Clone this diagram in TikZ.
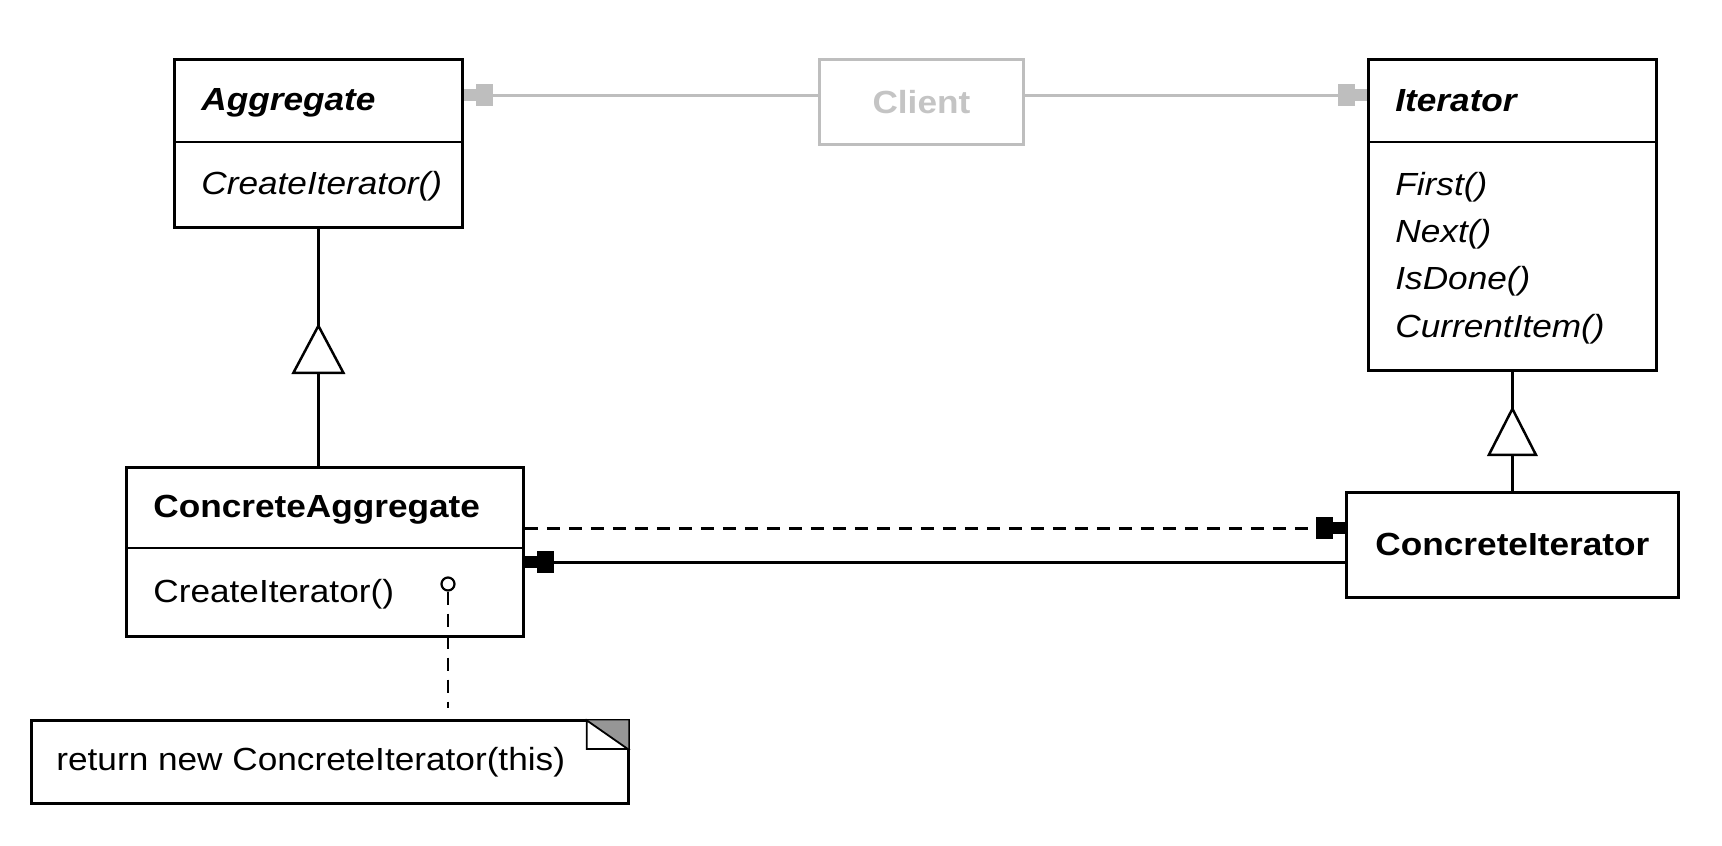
\documentclass[tikz,border=0pt]{standalone}
\usepackage{fontspec}
\setmainfont{Liberation Sans}[FakeStretch=1.1]
\usetikzlibrary{arrows.meta}
\definecolor{lightline}{RGB}{190,190,190}
\definecolor{lighttext}{RGB}{196,196,196}
\definecolor{foldgray}{RGB}{150,150,150}
\tikzset{
  plugtip/.tip={Rectangle[length=17pt,width=22pt] Rectangle[length=12pt,width=12pt]},
}
\begin{document}
\begin{tikzpicture}[x=1pt,y=-1pt,line width=2.8pt,
  box/.style={draw,rectangle,line width=2.8pt,inner sep=0pt,anchor=north west,fill=white},
  txt/.style={inner sep=0pt,anchor=base west,font=\fontsize{32}{38}\selectfont},
  clsname/.style={txt,font=\fontsize{32}{38}\selectfont\bfseries},
  absname/.style={txt,font=\fontsize{32}{38}\selectfont\bfseries\itshape},
  absop/.style={txt,font=\fontsize{32}{38}\selectfont\itshape},
  dashline/.style={dash pattern=on 13pt off 9pt},
  inherit/.style={draw,fill=white,line width=2.5pt,line join=miter},
]
\useasboundingbox (0,0) rectangle (1722,846);

% ---------- Aggregate ----------
\node[box,minimum width=288pt,minimum height=168pt] (agg) at (173,58) {};
\draw ([yshift=-84pt]agg.north west) -- ([yshift=-84pt]agg.north east);
\node[absname] (aggname) at (200,110) {Aggregate};
\node[absop] (aggop) at (200,194) {CreateIterator()};

% ---------- Client ----------
\node[draw=lightline,rectangle,line width=2.8pt,inner sep=0pt,anchor=north west,
      minimum width=204pt,minimum height=85pt,text=lighttext,
      font=\fontsize{32}{38}\selectfont\bfseries] (client) at (818,58) {Client};

% ---------- Iterator ----------
\node[box,minimum width=288pt,minimum height=311pt] (it) at (1367,58) {};
\draw ([yshift=-84pt]it.north west) -- ([yshift=-84pt]it.north east);
\node[absname] (itname) at (1394,111) {Iterator};
\node[absop] (itfirst) at (1394,195) {First()};
\node[absop] (itnext) at (1394,242) {Next()};
\node[absop] (itdone) at (1394,289) {IsDone()};
\node[absop] (itcur) at (1394,337) {CurrentItem()};

% ---------- ConcreteAggregate ----------
\node[box,minimum width=397pt,minimum height=169pt] (cagg) at (125,466) {};
\draw ([yshift=-82pt]cagg.north west) -- ([yshift=-82pt]cagg.north east);
\node[clsname] (caggname) at (152,517) {ConcreteAggregate};
\node[txt] (caggop) at (152,602) {CreateIterator()};
\node[circle,draw,line width=2.2pt,minimum size=13pt,inner sep=0pt] (hole) at (448,584) {};

% ---------- ConcreteIterator ----------
\node[box,minimum width=332pt,minimum height=105pt,
      font=\fontsize{32}{38}\selectfont\bfseries] (ci) at (1345,491) {ConcreteIterator};

% ---------- Note ----------
\node[box,minimum width=597pt,minimum height=83pt] (note) at (30,719) {};
\node[txt] (notetext) at (55,770) {return new ConcreteIterator(this)};
\fill[foldgray] ([xshift=-43pt,yshift=-1.4pt]note.north east) -- ([xshift=-1.4pt,yshift=-1.4pt]note.north east)
   -- ([xshift=-1.4pt,yshift=-31pt]note.north east) -- cycle;
\draw[line width=1.8pt,fill=white] ([xshift=-43pt,yshift=-1.4pt]note.north east)
   -- ([xshift=-43pt,yshift=-30pt]note.north east)
   -- ([xshift=-2pt,yshift=-30pt]note.north east) -- cycle;

% ---------- Client associations ----------
\coordinate (cw) at ([yshift=6.5pt]client.west);
\coordinate (ce) at ([yshift=6.5pt]client.east);
\draw[lightline,-{plugtip}] (cw) -- (cw -| agg.east);
\draw[lightline,-{plugtip}] (ce) -- (ce -| it.west);

% ---------- Inheritance ----------
\draw (agg.south) -- (agg.south |- cagg.north);
\draw[inherit] ([yshift=-97pt]agg.south) -- ++(25,47) -- ++(-50,0) -- cycle;
\draw (it.south) -- (it.south |- ci.north);
\draw[inherit] ([yshift=-37pt]it.south) -- ++(23.5,46) -- ++(-47,0) -- cycle;

% ---------- ConcreteAggregate <-> ConcreteIterator ----------
\coordinate (dstart) at ([yshift=23.5pt]cagg.east);
\draw[dashline,-{plugtip}] (dstart) -- (dstart -| ci.west);
\coordinate (sstart) at ([yshift=-17.5pt]ci.west);
\draw[-{plugtip}] (sstart) -- (sstart -| cagg.east);

% ---------- Note link ----------
\draw[dashline,line width=2.4pt] (hole.south) -- ([yshift=11pt]hole.south |- note.north);
\end{tikzpicture}
\end{document}
